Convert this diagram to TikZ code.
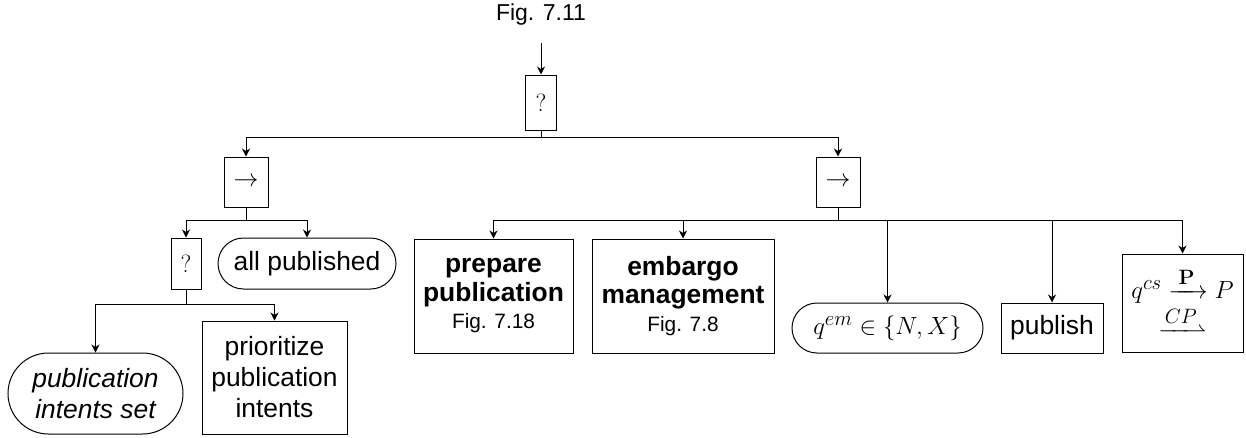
\documentclass[tikz,border=0pt]{standalone}
\usepackage[no-math]{fontspec}
\setmainfont{Liberation Sans}
\usepackage{mathtools}
\usetikzlibrary{arrows.meta,shapes.misc}
\newcommand{\nfont}{\fontsize{26.4}{31}\selectfont}
\newcommand{\bfont}{\fontsize{26.4}{28.5}\selectfont\bfseries}
\newcommand{\sfont}{\fontsize{20.8}{26}\selectfont}
\newcommand{\tfont}{\fontsize{23}{27}\selectfont}
\newcommand{\mfont}{\fontsize{29}{36}\selectfont}
\begin{document}
\begin{tikzpicture}[x=1pt,y=-1pt,
  every node/.style={font=\nfont},
  box/.style={draw, rectangle, inner sep=0pt, align=center, line width=1pt},
  term/.style={draw, rounded rectangle, inner sep=0pt, align=center, line width=1pt},
  arr/.style={-{Stealth[length=8pt,width=8pt,inset=2.5pt]}, line width=1pt}]
\useasboundingbox (0,0) rectangle (1246,437);
% labels and coordinates
\node (fig) at (541,15) {\tfont Fig. 7.11};
\coordinate (in1) at (541,43);
\coordinate (bar1) at (0,137);
\coordinate (bar2) at (0,220);
\coordinate (bar3) at (0,304);
% nodes
\node[box, minimum width=31pt, minimum height=55pt] (q1) at (541,102.5) {$?$};
\node[box, minimum width=44pt, minimum height=50pt] (seq1) at (246,182) {$\rightarrow$};
\node[box, minimum width=44pt, minimum height=50pt] (seq2) at (838,182) {$\rightarrow$};
\node[box, minimum width=30pt, minimum height=51pt] (q2) at (186,263.5) {$?$};
\node[term, minimum width=178pt, minimum height=51pt] (allpub) at (307,263.5) {all published};
\node[term, minimum width=175pt, minimum height=81pt] (pis) at (95.5,393.5) {\itshape publication\\\itshape intents set};
\node[box, minimum width=145pt, minimum height=113pt] (prio) at (274.5,377.5) {prioritize\\publication\\intents};
\node[box, minimum width=159pt, minimum height=114pt, font=\bfont] (prep) at (493.5,296) {prepare\\publication\\[-1pt]{\mdseries\sfont Fig. 7.18}};
\node[box, minimum width=182pt, minimum height=114pt, font=\bfont] (emb) at (683,296) {embargo\\management\\[-1pt]{\mdseries\sfont Fig. 7.8}};
\node[term, minimum width=191pt, minimum height=50pt, font=\mfont] (qem) at (887.5,328) {$q^{em}\in\{N,X\}$};
\node[box, minimum width=102pt, minimum height=50pt] (pub) at (1052,328) {publish};
\node[box, minimum width=121pt, minimum height=98pt, font=\mfont] (trans) at (1182.5,303) {$q^{cs}\xrightarrow{\,\mathbf{P}\,}P$\\[3pt]$\xrightharpoonup{CP}$};
% connectors
\draw[arr] (in1) -- (q1.north);
\draw[arr] (q1.south) -- (q1.south |- bar1) -| (seq1.north);
\draw[arr] (q1.south) -- (q1.south |- bar1) -| (seq2.north);
\draw[arr] (seq1.south) -- (seq1.south |- bar2) -| (q2.north);
\draw[arr] (seq1.south) -- (seq1.south |- bar2) -| (allpub.north);
\draw[arr] (q2.south) -- (q2.south |- bar3) -| (pis.north);
\draw[arr] (q2.south) -- (q2.south |- bar3) -| (prio.north);
\draw[arr] (seq2.south) -- (seq2.south |- bar2) -| (prep.north);
\draw[arr] (seq2.south) -- (seq2.south |- bar2) -| (emb.north);
\draw[arr] (seq2.south) -- (seq2.south |- bar2) -| (qem.north);
\draw[arr] (seq2.south) -- (seq2.south |- bar2) -| (pub.north);
\draw[arr] (seq2.south) -- (seq2.south |- bar2) -| (trans.north);
\end{tikzpicture}
\end{document}
